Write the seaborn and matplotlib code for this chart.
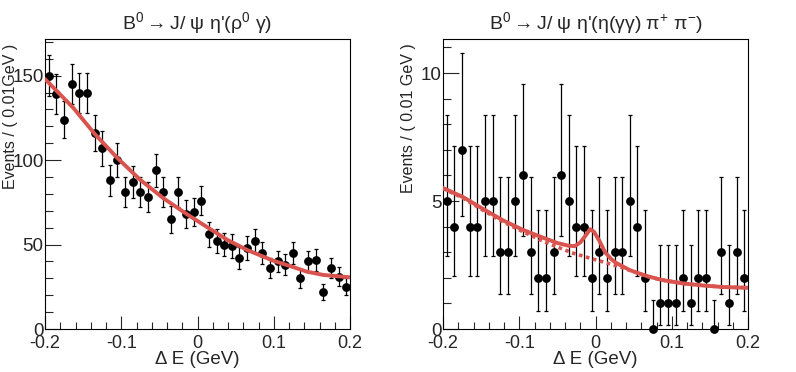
import numpy as np
import pandas as pd
import matplotlib.pyplot as plt
import seaborn as sns
from matplotlib.ticker import MultipleLocator

# 40 bins of 0.01 GeV between -0.2 and 0.2
bin_centers = np.round(np.arange(-0.195, 0.2, 0.01), 3)

# left panel: eta' -> rho0 gamma
rho_counts = [150, 139, 124, 145, 140, 140, 116, 107, 88, 100,
              81, 87, 81, 78, 94, 81, 65, 81, 68, 69,
              76, 56, 52, 50, 49, 42, 48, 52, 45, 36,
              40, 38, 45, 30, 40, 41, 22, 36, 31, 25]
rho_fit_x = [-0.2, -0.163, -0.135, -0.105, -0.075, -0.045, -0.014, 0.012,
             0.039, 0.065, 0.099, 0.126, 0.143, 0.165, 0.2]
rho_fit_y = [148.0, 131.0, 115.6, 101.2, 88.3, 77.5, 68.0, 60.5,
             52.8, 46.8, 40.5, 36.6, 34.0, 32.0, 30.6]

# right panel: eta' -> eta(gamma gamma) pi+ pi-
eta_counts = [5, 4, 7, 4, 4, 5, 5, 3, 3, 5,
              6, 3, 2, 2, 3, 6, 5, 4, 4, 2,
              3, 2, 3, 3, 5, 4, 2, 0, 1, 1,
              1, 2, 1, 2, 2, 0, 3, 1, 3, 2]
eta_total_x = [-0.2, -0.174, -0.148, -0.121, -0.095, -0.069, -0.05, -0.035,
               -0.027, -0.02, -0.013, -0.007, -0.002, 0.005, 0.0125, 0.02,
               0.026, 0.045, 0.067, 0.088, 0.115, 0.141, 0.167, 0.2]
eta_total_y = [5.51, 5.16, 4.70, 4.24, 3.87, 3.57, 3.36, 3.25,
               3.24, 3.38, 3.65, 3.90, 3.80, 3.45, 3.00, 2.75,
               2.60, 2.30, 2.07, 1.91, 1.78, 1.70, 1.64, 1.61]
eta_bkg_x = [-0.2, -0.174, -0.148, -0.121, -0.095, -0.07, -0.05, -0.03,
             -0.01, 0.0125, 0.035, 0.05, 0.067, 0.088, 0.115, 0.141, 0.167, 0.2]
eta_bkg_y = [5.49, 5.12, 4.65, 4.18, 3.80, 3.45, 3.20, 2.97,
             2.79, 2.60, 2.40, 2.24, 2.06, 1.91, 1.78, 1.70, 1.64, 1.61]

# poisson interval (low, high) per count, as drawn for the small-stat panel
poisson_low = {0: 0.0, 1: 0.17, 2: 0.71, 3: 1.37, 4: 2.09, 5: 2.84, 6: 3.62, 7: 4.42}
poisson_high = {0: 1.15, 1: 3.30, 2: 4.64, 3: 5.92, 4: 7.16, 5: 8.38, 6: 9.58, 7: 10.77}

sns.set_style("ticks")
plt.rcParams['font.family'] = ['Liberation Sans', 'DejaVu Sans']
plt.rcParams['mathtext.fontset'] = 'custom'
plt.rcParams['mathtext.rm'] = 'Liberation Sans'
plt.rcParams['mathtext.it'] = 'Liberation Sans'
plt.rcParams['mathtext.bf'] = 'Liberation Sans:bold'

fit_color = '#d9534f'

fig = plt.figure(figsize=(7.96, 3.72), dpi=100)
ax1 = fig.add_axes([45 / 796, 43 / 372, 305 / 796, 290 / 372])
ax2 = fig.add_axes([443 / 796, 43 / 372, 305 / 796, 290 / 372])

rho = pd.DataFrame({"dE": bin_centers, "n": rho_counts})
rho["err"] = np.sqrt(rho["n"])
eta = pd.DataFrame({"dE": bin_centers, "n": eta_counts})
eta["lo"] = eta["n"] - eta["n"].map(poisson_low)
eta["hi"] = eta["n"].map(poisson_high) - eta["n"]


def draw_data(ax, df, yerr):
    ax.errorbar(df["dE"], df["n"], yerr=yerr, fmt='none', ecolor='black',
                elinewidth=0.9, capsize=1.6, capthick=0.9, zorder=2)
    sns.scatterplot(x="dE", y="n", data=df, ax=ax, color='black', s=40,
                    marker='o', edgecolor='black', linewidth=0, zorder=3,
                    clip_on=False, legend=False)


draw_data(ax1, rho, rho["err"])
sns.lineplot(x=rho_fit_x, y=rho_fit_y, ax=ax1, color=fit_color, lw=2.8,
             zorder=4, estimator=None)

draw_data(ax2, eta, [eta["lo"], eta["hi"]])
sns.lineplot(x=eta_bkg_x, y=eta_bkg_y, ax=ax2, color=fit_color, lw=2.6,
             linestyle=(0, (1, 1)), zorder=4, estimator=None)
sns.lineplot(x=eta_total_x, y=eta_total_y, ax=ax2, color=fit_color, lw=2.8,
             zorder=5, estimator=None)

ax1.set_ylim(0, 171.7)
ax1.yaxis.set_major_locator(MultipleLocator(50))
ax1.yaxis.set_minor_locator(MultipleLocator(10))
ax2.set_ylim(0, 11.33)
ax2.yaxis.set_major_locator(MultipleLocator(5))
ax2.yaxis.set_minor_locator(MultipleLocator(1))

ax1.set_title(r"$\mathrm{B^{0}\rightarrow J/\ \psi\ \eta}$'$\mathrm{(\rho^{0}\ \gamma)}$",
              fontsize=14, pad=7)
ax2.set_title(r"$\mathrm{B^{0}\rightarrow J/\ \psi\ \eta}$'$\mathrm{(\eta(\gamma\gamma)\ \pi^{+}\ \pi^{-})}$",
              fontsize=14, pad=7)
ax1.set_ylabel("Events / ( 0.01GeV )", fontsize=11.5, loc='top')
ax2.set_ylabel("Events / ( 0.01 GeV )", fontsize=11.5, loc='top')
ax1.yaxis.set_label_coords(-0.088, 0.985)
ax2.yaxis.set_label_coords(-0.088, 0.985)

for ax in (ax1, ax2):
    ax.set_xlim(-0.2, 0.2)
    ax.xaxis.set_major_locator(MultipleLocator(0.1))
    ax.xaxis.set_minor_locator(MultipleLocator(0.02))
    ax.set_xticks([-0.2, -0.1, 0, 0.1, 0.2])
    ax.set_xticklabels(["-0.2", "-0.1", "0", "0.1", "0.2"])
    ax.set_xlabel("Δ E (GeV)", fontsize=13.5)
    ax.xaxis.set_label_coords(0.5, -0.075)
    ax.tick_params(axis='x', which='major', direction='in', length=9.4,
                   width=0.8, labelsize=13, pad=4)
    ax.tick_params(axis='x', which='minor', direction='in', length=4.8, width=0.8)
    ax.tick_params(axis='y', which='major', direction='in', length=11.2,
                   width=0.8, labelsize=13.5, pad=1)
    ax.tick_params(axis='y', which='minor', direction='in', length=5.5, width=0.8)
    for sp in ax.spines.values():
        sp.set_visible(True)
        sp.set_linewidth(0.8)
        sp.set_color('black')

plt.savefig("out.png", dpi=100)
plt.close()
